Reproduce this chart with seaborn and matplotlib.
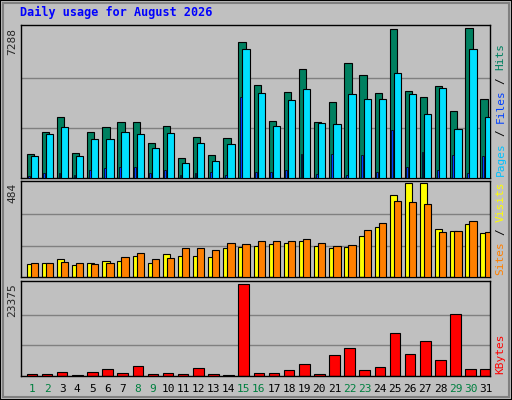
import numpy as np
import matplotlib
matplotlib.use('Agg')
import matplotlib.pyplot as plt
import seaborn as sns
from matplotlib.patches import Rectangle

days = list(range(1, 32))
weekend_days = [1, 2, 8, 9, 15, 16, 22, 23, 29, 30]
hits = [1176, 2220, 2965, 1226, 2220, 2468, 2716, 2716, 1723, 2518, 977, 1971, 1126, 1921, 6592,
        4505, 2783, 4158, 5300, 2716, 3710, 5565, 5002, 4108, 7238, 4207, 3959, 4456, 3263, 7288, 3859]
files = [1077, 2120, 2468, 1077, 1872, 1872, 2220, 2120, 1474, 2170, 729, 1723, 828, 1673, 6245,
         4108, 2518, 3810, 4307, 2667, 2617, 4058, 3859, 3859, 5102, 4058, 3114, 4356, 2369, 6245, 2965]
pages = [99, 232, 232, 132, 381, 480, 530, 530, 232, 381, 132, 232, 282, 132, 3959,
         282, 282, 381, 1176, 182, 1176, 132, 1126, 282, 2319, 530, 1275, 381, 1126, 232, 1077]
visits = [68, 74, 95, 63, 74, 84, 84, 110, 74, 116, 110, 110, 105, 147, 153,
          158, 168, 174, 184, 158, 147, 153, 210, 258, 421, 484, 484, 247, 237, 274, 226]
sites = [74, 74, 79, 74, 68, 74, 105, 121, 95, 100, 147, 147, 137, 174, 168,
         184, 184, 184, 195, 174, 158, 163, 242, 279, 389, 384, 374, 231, 237, 289, 231]
kbytes = [597, 597, 1109, 341, 1109, 1877, 853, 2645, 512, 853, 597, 2133, 512, 341, 23375,
          853, 853, 1621, 3157, 597, 5204, 6995, 1621, 2389, 10834, 5460, 8787, 4180, 15697, 1877, 1877]

sns.set_style('white')
plt.rcParams['font.family'] = ['DejaVu Sans Mono', 'DejaVu Sans']

W, H = 512, 400
fig = plt.figure(figsize=(W / 100, H / 100), dpi=100)
fig.patch.set_facecolor('#C0C0C0')
fig.patches.append(Rectangle((0, 0), 1, 1, transform=fig.transFigure, fill=False,
                             edgecolor='black', linewidth=1.5))
fig.patches.append(Rectangle((3 / W, 3 / H), 1 - 6 / W, 1 - 6 / H, transform=fig.transFigure,
                             fill=False, edgecolor='#808080', linewidth=1.5))

def make_ax(top, bottom):
    ax = fig.add_axes([21 / W, 1 - bottom / H, (490 - 21) / W, (bottom - top) / H])
    ax.set_facecolor('#C0C0C0')
    for s in ax.spines.values():
        s.set_color('black')
        s.set_linewidth(1)
    ax.set_xlim(0.55, 31.55)
    ax.set_xticks([])
    ax.set_yticks([])
    return ax

x = np.array(days)
lw = 0.8

def max_label(ax, val):
    ax.text(-0.018, 0.98, str(val), transform=ax.transAxes, rotation=90, ha='center', va='top',
            fontsize=8)

ax1 = make_ax(25, 178)
m1 = max(hits)
ax1.set_ylim(0, m1 * 1.02)
for g in (m1 / 3, 2 * m1 / 3):
    ax1.axhline(g, color='#808080', lw=1, zorder=0)
ax1.bar(x - 0.08, hits, width=0.48, align='edge', color='#008060', edgecolor='black', lw=lw, zorder=2)
ax1.bar(x + 0.19, files, width=0.48, align='edge', color='#00E0FF', edgecolor='black', lw=lw, zorder=3)
ax1.bar(x + 0.03, pages, width=0.12, align='edge', color='#0040FF', edgecolor='black', lw=0.5, zorder=4)
max_label(ax1, m1)

ax2 = make_ax(181, 277)
m2 = max(visits)
ax2.set_ylim(0, m2 * 1.02)
for g in (m2 / 3, 2 * m2 / 3):
    ax2.axhline(g, color='#808080', lw=1, zorder=0)
ax2.bar(x - 0.08, visits, width=0.48, align='edge', color='#FFFF00', edgecolor='black', lw=lw, zorder=2)
ax2.bar(x + 0.19, sites, width=0.48, align='edge', color='#FF8000', edgecolor='black', lw=lw, zorder=3)
max_label(ax2, m2)

ax3 = make_ax(281, 376)
m3 = max(kbytes)
ax3.set_ylim(0, m3 * 1.03)
for g in (m3 / 3, 2 * m3 / 3):
    ax3.axhline(g, color='#808080', lw=1, zorder=0)
ax3.bar(x - 0.08, kbytes, width=0.7, align='edge', color='#FF0000', edgecolor='black', lw=lw, zorder=2)
max_label(ax3, m3)

for d in days:
    ax3.text(d + 0.27, -0.08, str(d), transform=ax3.get_xaxis_transform(), ha='center', va='top',
             fontsize=8, color='#008040' if d in weekend_days else 'black')

fig.text(20 / W, 1 - 12 / H, 'Daily usage for August 2026', color='#0000FF', fontsize=8.5,
         fontweight='bold', va='center', ha='left')

def side_label(ax, parts):
    # stacked rotated words, bottom to top, right of the axes
    ax_h = ax.get_position().height * H
    char_px = 6.6
    y = 2 / ax_h
    for txt, col in parts:
        ax.text(1.012, y, txt, transform=ax.transAxes, rotation=90, ha='left', va='bottom',
                fontsize=8, color=col)
        y += (len(txt) + 1) * char_px / ax_h

side_label(ax1, [('Pages', '#00C0FF'), ('/', 'black'), ('Files', '#0040FF'), ('/', 'black'), ('Hits', '#008060')])
side_label(ax2, [('Sites', '#FF8000'), ('/', 'black'), ('Visits', '#FFFF00')])
side_label(ax3, [('KBytes', '#FF0000')])

fig.savefig('out.png', dpi=100, facecolor=fig.get_facecolor())
